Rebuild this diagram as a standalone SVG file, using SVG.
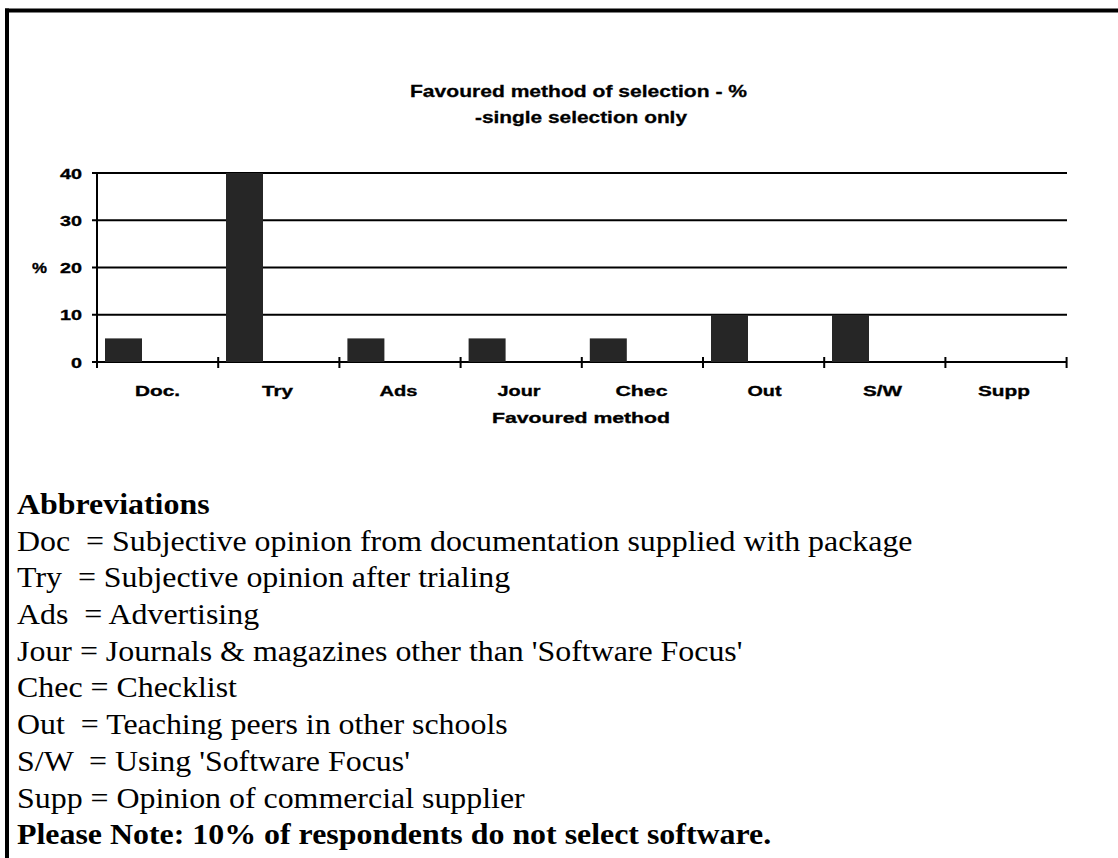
<svg xmlns="http://www.w3.org/2000/svg" width="1118" height="858" viewBox="0 0 1118 858">
<style>
.ch{font-family:"Liberation Sans",Arial,sans-serif;font-weight:bold;font-size:15.5px;fill:#000;stroke:#000;stroke-width:0.35}
.tt{font-family:"Liberation Sans",Arial,sans-serif;font-weight:bold;font-size:17px;fill:#000;stroke:#000;stroke-width:0.3}
.tx{font-family:"Liberation Serif","Times New Roman",serif;font-size:29px;fill:#000;white-space:pre}
.bd{font-weight:bold}
.grid{stroke:#000;stroke-width:2;fill:none}
.bar{fill:#262626}
</style>
<rect x="0" y="0" width="1118" height="858" fill="#fff"/>
<g id="frame">
<line x1="5" y1="10.5" x2="1118" y2="10.5" stroke="#000" stroke-width="4"/>
<line x1="7" y1="8.5" x2="7" y2="858" stroke="#000" stroke-width="4"/>
</g>
<g id="title">
<text class="tt" x="410" y="97" textLength="337" lengthAdjust="spacingAndGlyphs">Favoured method of selection - %</text>
<text class="tt" x="475" y="123" textLength="212" lengthAdjust="spacingAndGlyphs">-single selection only</text>
</g>
<g id="axes">
<line class="grid" x1="92" y1="173" x2="1067" y2="173"/>
<line class="grid" x1="92" y1="220.25" x2="1067" y2="220.25"/>
<line class="grid" x1="92" y1="267.5" x2="1067" y2="267.5"/>
<line class="grid" x1="92" y1="314.75" x2="1067" y2="314.75"/>
<line class="grid" x1="92" y1="362" x2="1067" y2="362"/>
<line class="grid" x1="97" y1="172" x2="97" y2="368"/>
<g stroke="#000" stroke-width="2">
<line x1="218.2" y1="357" x2="218.2" y2="368"/>
<line x1="339.4" y1="357" x2="339.4" y2="368"/>
<line x1="460.6" y1="357" x2="460.6" y2="368"/>
<line x1="581.8" y1="357" x2="581.8" y2="368"/>
<line x1="703" y1="357" x2="703" y2="368"/>
<line x1="824.2" y1="357" x2="824.2" y2="368"/>
<line x1="945.4" y1="357" x2="945.4" y2="368"/>
<line x1="1066.6" y1="357" x2="1066.6" y2="368"/>
</g>
</g>
<g id="ylabels">
<text class="ch" x="82" y="178.5" text-anchor="end" textLength="22" lengthAdjust="spacingAndGlyphs">40</text>
<text class="ch" x="82" y="225.75" text-anchor="end" textLength="22" lengthAdjust="spacingAndGlyphs">30</text>
<text class="ch" x="82" y="273" text-anchor="end" textLength="22" lengthAdjust="spacingAndGlyphs">20</text>
<text class="ch" x="82" y="320.25" text-anchor="end" textLength="22" lengthAdjust="spacingAndGlyphs">10</text>
<text class="ch" x="82" y="367.5" text-anchor="end" textLength="11" lengthAdjust="spacingAndGlyphs">0</text>
<text class="ch" x="32" y="273" textLength="15" lengthAdjust="spacingAndGlyphs">%</text>
</g>
<g id="bars">
<rect class="bar" x="105" y="338.4" width="37" height="23.6"/>
<rect class="bar" x="226" y="173" width="37" height="189"/>
<rect class="bar" x="347.4" y="338.4" width="37" height="23.6"/>
<rect class="bar" x="468.6" y="338.4" width="37" height="23.6"/>
<rect class="bar" x="589.8" y="338.4" width="37" height="23.6"/>
<rect class="bar" x="711" y="314.75" width="37" height="47.25"/>
<rect class="bar" x="832" y="314.75" width="37" height="47.25"/>
</g>
<g id="xlabels">
<text class="ch" x="157.5" y="396" text-anchor="middle" textLength="45" lengthAdjust="spacingAndGlyphs">Doc.</text>
<text class="ch" x="277.5" y="396" text-anchor="middle" textLength="31" lengthAdjust="spacingAndGlyphs">Try</text>
<text class="ch" x="398.5" y="396" text-anchor="middle" textLength="38" lengthAdjust="spacingAndGlyphs">Ads</text>
<text class="ch" x="519" y="396" text-anchor="middle" textLength="43" lengthAdjust="spacingAndGlyphs">Jour</text>
<text class="ch" x="641.5" y="396" text-anchor="middle" textLength="52" lengthAdjust="spacingAndGlyphs">Chec</text>
<text class="ch" x="764.5" y="396" text-anchor="middle" textLength="34" lengthAdjust="spacingAndGlyphs">Out</text>
<text class="ch" x="882.5" y="396" text-anchor="middle" textLength="39" lengthAdjust="spacingAndGlyphs">S/W</text>
<text class="ch" x="1004" y="396" text-anchor="middle" textLength="52" lengthAdjust="spacingAndGlyphs">Supp</text>
<text class="ch" x="492" y="423" textLength="178" lengthAdjust="spacingAndGlyphs">Favoured method</text>
</g>
<g id="abbreviations" transform="scale(1.1,1)">
<text class="tx bd" x="15.5" y="514">Abbreviations</text>
<text class="tx" x="15.5" y="550.7">Doc  = Subjective opinion from documentation supplied with package</text>
<text class="tx" x="15.5" y="587.4">Try  = Subjective opinion after trialing</text>
<text class="tx" x="15.5" y="624.1">Ads  = Advertising</text>
<text class="tx" x="15.5" y="660.8">Jour = Journals &amp; magazines other than 'Software Focus'</text>
<text class="tx" x="15.5" y="697.5">Chec = Checklist</text>
<text class="tx" x="15.5" y="734.2">Out  = Teaching peers in other schools</text>
<text class="tx" x="15.5" y="770.9">S/W  = Using 'Software Focus'</text>
<text class="tx" x="15.5" y="807.6">Supp = Opinion of commercial supplier</text>
<text class="tx bd" x="15.5" y="844.3">Please Note: 10% of respondents do not select software.</text>
</g>
</svg>
